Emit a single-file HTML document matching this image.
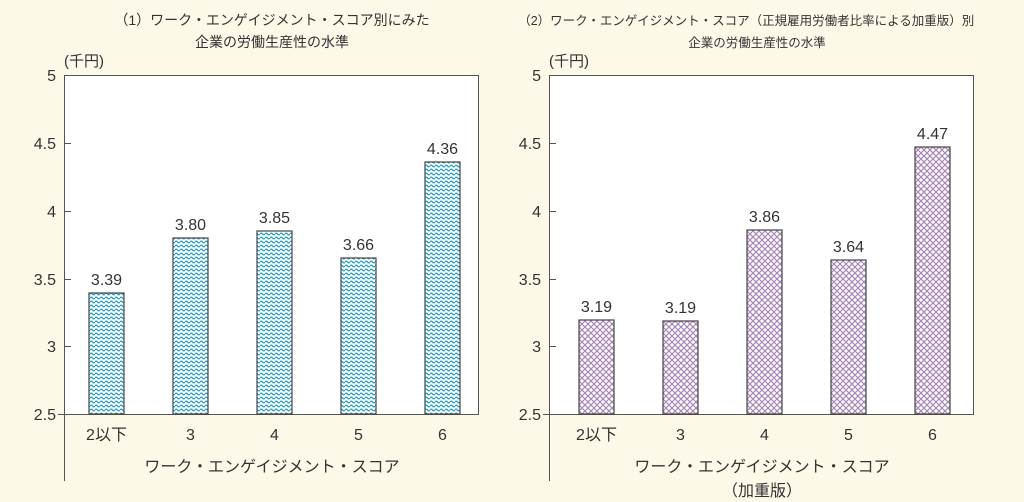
<!DOCTYPE html>
<html><head><meta charset="utf-8"><style>
html,body{margin:0;padding:0;background:#fdf9e8;}
svg{display:block;font-family:"Liberation Sans","Noto Sans CJK JP",sans-serif;}
</style></head><body>
<svg width="1024" height="502" viewBox="0 0 1024 502" xmlns="http://www.w3.org/2000/svg">
<defs>
<pattern id="wave" width="5" height="4" patternUnits="userSpaceOnUse">
<rect width="5" height="4" fill="#ffffff"/>
<path d="M0 2 Q1.25 0.3 2.5 2 T5 2" fill="none" stroke="#2a9fc4" stroke-width="1.4"/>
</pattern>
<pattern id="hatch" width="6" height="6" patternUnits="userSpaceOnUse">
<rect width="6" height="6" fill="#ffffff"/>
<path d="M0 0L6 6M6 0L0 6" stroke="#a886b8" stroke-width="1.2"/>
</pattern>
</defs>
<rect width="1024" height="502" fill="#fdf9e8"/>
<g fill="#333" font-size="14" text-anchor="middle">
<text x="272" y="25">（1）ワーク・エンゲイジメント・スコア別にみた</text>
<text x="272" y="47">企業の労働生産性の水準</text>
<text x="765" y="25" font-size="12.5">（2）ワーク・エンゲイジメント・スコア（正規雇用労働者比率による加重版）別にみた</text>
<text x="757" y="47" font-size="12.5">企業の労働生産性の水準</text>
</g>
<rect x="974" y="0" width="50" height="60" fill="#fdf9e8"/>
<g font-size="15" fill="#333">
<text x="64" y="66">(千円)</text>
<text x="549" y="66">(千円)</text>
</g>
<rect x="64.5" y="75.5" width="414" height="339" fill="#fff" stroke="#555" stroke-width="1"/>
<rect x="549.5" y="75.5" width="424" height="339" fill="#fff" stroke="#555" stroke-width="1"/>
<g stroke="#555" stroke-width="1">
<line x1="58" y1="414.5" x2="479" y2="414.5"/>
<line x1="543" y1="414.5" x2="974" y2="414.5"/>
<line x1="64.5" y1="414" x2="64.5" y2="481"/>
<line x1="549.5" y1="414" x2="549.5" y2="481"/>
</g>
<g stroke="#555">
<line x1="64" y1="75.5" x2="71" y2="75.5"/><line x1="64" y1="143.5" x2="71" y2="143.5"/><line x1="64" y1="211.5" x2="71" y2="211.5"/><line x1="64" y1="279.5" x2="71" y2="279.5"/><line x1="64" y1="346.5" x2="71" y2="346.5"/>
<line x1="549" y1="75.5" x2="556" y2="75.5"/><line x1="549" y1="143.5" x2="556" y2="143.5"/><line x1="549" y1="211.5" x2="556" y2="211.5"/><line x1="549" y1="279.5" x2="556" y2="279.5"/><line x1="549" y1="346.5" x2="556" y2="346.5"/>
</g>
<g font-size="16" fill="#333" text-anchor="end">
<text x="56" y="81">5</text><text x="56" y="149">4.5</text><text x="56" y="217">4</text><text x="56" y="285">3.5</text><text x="56" y="352">3</text><text x="56" y="420">2.5</text>
<text x="541" y="81">5</text><text x="541" y="149">4.5</text><text x="541" y="217">4</text><text x="541" y="285">3.5</text><text x="541" y="352">3</text><text x="541" y="420">2.5</text>
</g>
<g stroke="#444" stroke-width="1.2">
<rect x="89" y="293" width="35" height="121" fill="url(#wave)"/>
<rect x="173" y="238" width="35" height="176" fill="url(#wave)"/>
<rect x="257" y="231" width="35" height="183" fill="url(#wave)"/>
<rect x="341" y="258" width="35" height="156" fill="url(#wave)"/>
<rect x="425" y="162" width="35" height="252" fill="url(#wave)"/>
<rect x="579" y="320" width="35" height="94" fill="url(#hatch)"/>
<rect x="663" y="321" width="35" height="93" fill="url(#hatch)"/>
<rect x="747" y="230" width="35" height="184" fill="url(#hatch)"/>
<rect x="831" y="260" width="35" height="154" fill="url(#hatch)"/>
<rect x="915" y="147" width="35" height="267" fill="url(#hatch)"/>
</g>
<g font-size="16" fill="#333" text-anchor="middle">
<text x="106.5" y="285">3.39</text><text x="190.5" y="230">3.80</text><text x="274.5" y="223">3.85</text><text x="358.5" y="250">3.66</text><text x="442.5" y="154">4.36</text>
<text x="596.5" y="312">3.19</text><text x="680.5" y="313">3.19</text><text x="764.5" y="222">3.86</text><text x="848.5" y="252">3.64</text><text x="932.5" y="139">4.47</text>
<text x="106.5" y="440">2以下</text><text x="190.5" y="440">3</text><text x="274.5" y="440">4</text><text x="358.5" y="440">5</text><text x="442.5" y="440">6</text>
<text x="596.5" y="440">2以下</text><text x="680.5" y="440">3</text><text x="764.5" y="440">4</text><text x="848.5" y="440">5</text><text x="932.5" y="440">6</text>
<text x="272" y="472">ワーク・エンゲイジメント・スコア</text>
<text x="762" y="472">ワーク・エンゲイジメント・スコア</text>
<text x="762" y="496">（加重版）</text>
</g>
</svg>
</body></html>
